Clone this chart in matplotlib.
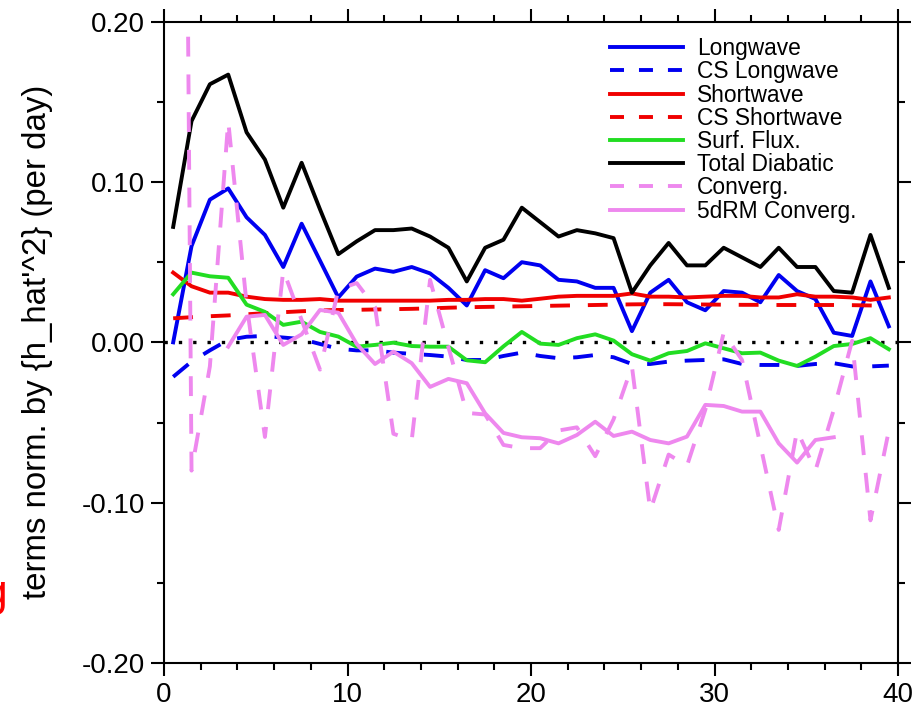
import numpy as np
import matplotlib
matplotlib.use("Agg")
import matplotlib.pyplot as plt
from matplotlib.lines import Line2D

plt.rcParams['font.family'] = ['Liberation Sans', 'DejaVu Sans']

# day index (centre of each daily bin)
days = np.arange(40) + 0.5

longwave = [0.000, 0.060, 0.089, 0.096, 0.078, 0.067, 0.047, 0.074, 0.051, 0.028,
            0.041, 0.046, 0.044, 0.047, 0.043, 0.034, 0.023, 0.045, 0.040, 0.050,
            0.048, 0.039, 0.038, 0.034, 0.034, 0.007, 0.031, 0.039, 0.025, 0.020,
            0.032, 0.031, 0.025, 0.042, 0.032, 0.027, 0.006, 0.004, 0.038, 0.010]

cs_longwave = [-0.0215, -0.0120, -0.0050, 0.0015, 0.0035, 0.0040, 0.0030, 0.0020, -0.0010, -0.0040,
               -0.0050, -0.0050, -0.0064, -0.0072, -0.0079, -0.0089, -0.0110, -0.0110, -0.0085, -0.0064,
               -0.0085, -0.0099, -0.0093, -0.0079, -0.0093, -0.0135, -0.0135, -0.0120, -0.0114, -0.0110,
               -0.0106, -0.0135, -0.0141, -0.0141, -0.0147, -0.0135, -0.0130, -0.0150, -0.0150, -0.0145]

shortwave = [0.0435, 0.0350, 0.0310, 0.0310, 0.0285, 0.0270, 0.0265, 0.0265, 0.0270, 0.0260,
             0.0260, 0.0260, 0.0260, 0.0260, 0.0260, 0.0265, 0.0265, 0.0270, 0.0270, 0.0260,
             0.0272, 0.0285, 0.0290, 0.0290, 0.0290, 0.0305, 0.0285, 0.0285, 0.0280, 0.0285,
             0.0290, 0.0290, 0.0280, 0.0280, 0.0300, 0.0285, 0.0285, 0.0280, 0.0265, 0.0280]

cs_shortwave = [0.0150, 0.0157, 0.0163, 0.0168, 0.0175, 0.0182, 0.0188, 0.0194, 0.0199, 0.0202,
                0.0203, 0.0205, 0.0207, 0.0209, 0.0212, 0.0216, 0.0219, 0.0221, 0.0223, 0.0225,
                0.0227, 0.0229, 0.0231, 0.0233, 0.0235, 0.0237, 0.0238, 0.0238, 0.0237, 0.0236,
                0.0235, 0.0234, 0.0234, 0.0233, 0.0233, 0.0233, 0.0233, 0.0232, 0.0230, 0.0228]

surf_flux = [0.0300, 0.0435, 0.0412, 0.0403, 0.0235, 0.0190, 0.0109, 0.0129, 0.0065, 0.0036,
             -0.0027, -0.0016, -0.0002, -0.0023, -0.0027, -0.0027, -0.0112, -0.0124, -0.0025, 0.0065,
             -0.0008, -0.0016, 0.0026, 0.0050, 0.0011, -0.0074, -0.0114, -0.0068, -0.0054, -0.0006,
             -0.0037, -0.0068, -0.0064, -0.0114, -0.0147, -0.0089, -0.0023, -0.0010, 0.0026, -0.0043]

total_diabatic = [0.072, 0.138, 0.161, 0.167, 0.131, 0.114, 0.084, 0.112, 0.083, 0.055,
                  0.063, 0.070, 0.070, 0.071, 0.066, 0.059, 0.038, 0.059, 0.064, 0.084,
                  0.075, 0.066, 0.070, 0.068, 0.065, 0.031, 0.048, 0.062, 0.048, 0.048,
                  0.059, 0.053, 0.047, 0.059, 0.047, 0.047, 0.032, 0.031, 0.067, 0.034]

converg = [1.380, -0.080, -0.015, 0.138, 0.024, -0.059, 0.045, 0.014, -0.017, 0.033,
           0.037, 0.022, -0.057, -0.061, 0.039, -0.003, -0.044, -0.045, -0.064, -0.066,
           -0.066, -0.055, -0.053, -0.071, -0.048, -0.015, -0.105, -0.070, -0.077, -0.042,
           0.006, -0.011, -0.064, -0.117, -0.055, -0.080, -0.042, 0.001, -0.111, -0.055]

nan = np.nan
rm_converg = [nan, nan, nan, -0.0027, 0.0160, 0.0171, -0.0016, 0.0050, 0.0202, 0.0185,
              -0.0010, -0.0135, -0.0058, -0.0130, -0.0278, -0.0228, -0.0255, -0.0443, -0.0565, -0.0592,
              -0.0598, -0.0630, -0.0578, -0.0495, -0.0584, -0.0557, -0.0609, -0.0630, -0.0588, -0.0390,
              -0.0397, -0.0432, -0.0432, -0.0630, -0.0750, -0.0609, -0.0592, nan, nan, nan]

labels = ['Longwave', 'CS Longwave', 'Shortwave', 'CS Shortwave',
          'Surf. Flux.', 'Total Diabatic', 'Converg.', '5dRM Converg.']

BLUE = '#0000F0'
RED = '#F00000'
GREEN = '#22DD22'
PINK = '#EE88EE'
LW = 2.8
DASH = (0, (5.1, 4.6))        # dash pattern along the curves
KEY_DASH = (0, (3.6, 3.85))   # shorter dashes in the legend keys

series = [
    (longwave, BLUE, '-'),
    (cs_longwave, BLUE, 'dash'),
    (shortwave, RED, '-'),
    (cs_shortwave, RED, 'dash'),
    (surf_flux, GREEN, '-'),
    (total_diabatic, 'black', '-'),
    (converg, PINK, 'dash'),
    (rm_converg, PINK, '-'),
]

fig = plt.figure(figsize=(9.16, 7.10), dpi=100)
ax = fig.add_axes([164 / 916, 1 - 663 / 710, (898 - 164) / 916, (663 - 21.7) / 710])

keys = []
for values, color, style in series:
    ls = DASH if style == 'dash' else '-'
    ax.plot(days, values, color=color, lw=LW, ls=ls)
    keys.append(Line2D([], [], color=color, lw=LW,
                       ls=KEY_DASH if style == 'dash' else '-'))

ax.axhline(0.0, color='black', lw=2.4, ls=(0, (1, 3.3)), zorder=1)

ax.set_xlim(0, 40)
ax.set_ylim(-0.20, 0.20)
ax.set_xticks([0, 10, 20, 30, 40])
ax.set_xticks(np.arange(0, 41, 2), minor=True)
ax.set_yticks([-0.2, -0.1, 0.0, 0.1, 0.2])
ax.set_yticks(np.arange(-0.20, 0.201, 0.05), minor=True)
ax.yaxis.set_major_formatter(matplotlib.ticker.FormatStrFormatter('%.2f'))

for side in ax.spines.values():
    side.set_linewidth(1.5)
ax.tick_params(which='both', direction='out', top=True, right=True, width=1.5,
               labelsize=20, pad=4)
ax.tick_params(which='major', length=9.5)
ax.tick_params(which='minor', length=5)

ax.set_ylabel("terms norm. by {h_hat'^2} (per day)", fontsize=23.8)
ax.yaxis.set_label_coords((53 - 164) / 734, 0.5)

ax.legend(keys, labels, loc='upper left', bbox_to_anchor=(0.6076, 0.976), frameon=False,
          fontsize=16.4, handlelength=3.2, handletextpad=0.62,
          labelspacing=0.01, borderpad=0, borderaxespad=0)

fig.text(7 / 916, 1 - 606 / 710, 'g', color='red', fontsize=32, ha='right', va='baseline')

fig.savefig('out.png', dpi=100)
